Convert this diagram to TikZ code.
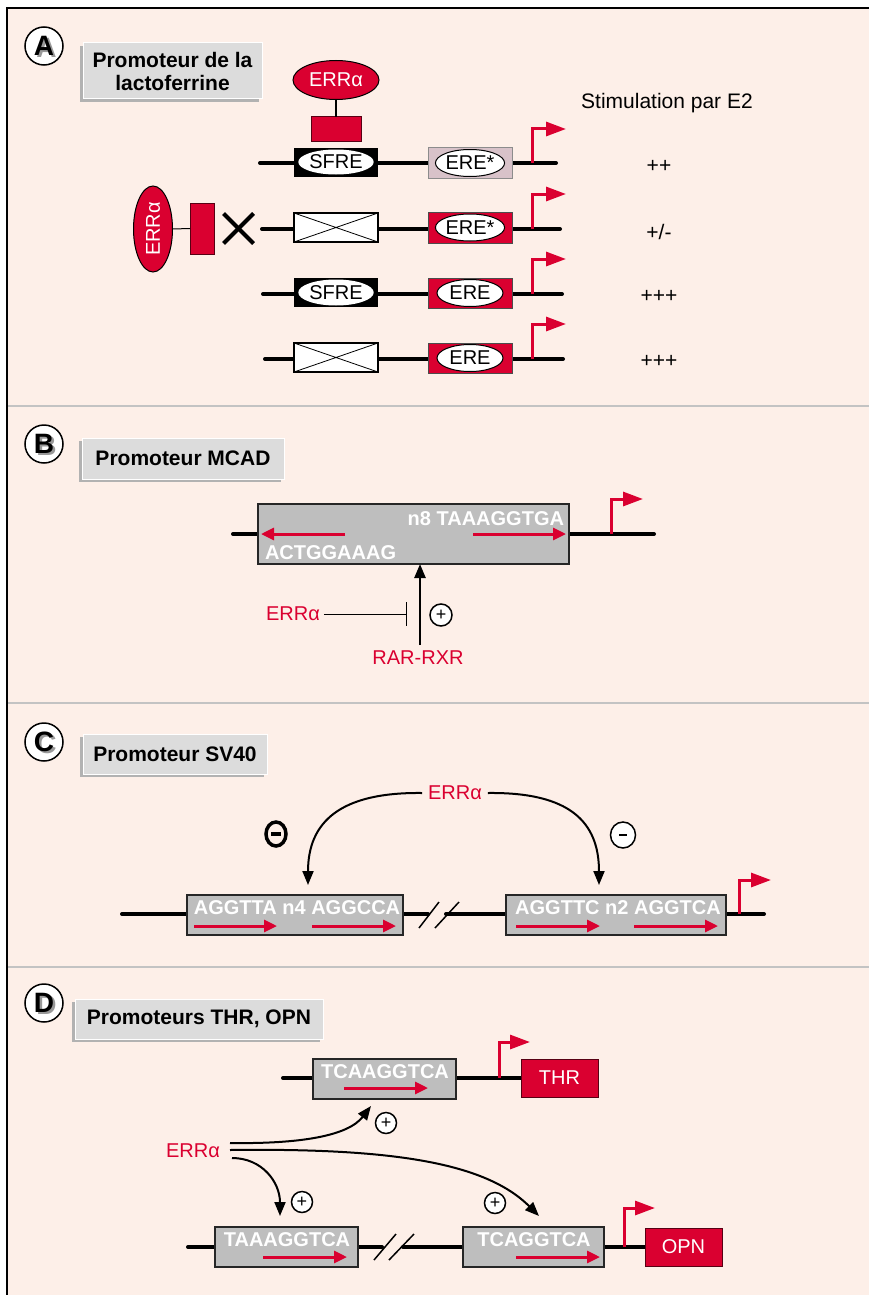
\documentclass[tikz,border=0pt]{standalone}
\usepackage{fontspec}
\setmainfont{Liberation Sans}
\usetikzlibrary{arrows.meta,shapes.geometric}
\definecolor{bg}{RGB}{253,239,232}
\definecolor{rd}{RGB}{218,0,48}
\definecolor{tbox}{RGB}{220,220,220}
\definecolor{tshadow}{RGB}{178,178,178}
\definecolor{gbox}{RGB}{190,190,190}
\definecolor{mauve}{RGB}{216,194,201}
\definecolor{sepc}{RGB}{195,195,195}
\begin{document}
\begin{tikzpicture}[x=1pt,y=-1pt,
 every node/.style={inner sep=0pt,outer sep=0pt},
 f20/.style={font=\fontsize{20}{22}\selectfont},
 f21/.style={font=\fontsize{21}{24}\selectfont},
 seqtxt/.style={font=\fontsize{20}{22}\selectfont\bfseries,text=white},
 titletxt/.style={font=\fontsize{21}{23}\selectfont\bfseries,fill=tbox,draw=white,line width=1pt,align=center},
 tshad/.style={fill=tshadow},
 letterc/.style={circle,draw,line width=1.5pt,fill=white,minimum size=38pt},
 lettert/.style={font=\fontsize{28}{28}\selectfont\bfseries},
 dna/.style={line width=4pt,line cap=round},
 prom/.style={draw=rd,line width=3pt,-{Triangle[length=20pt,width=14pt]}},
 redarr/.style={draw=rd,line width=3pt,-{Triangle[length=13pt,width=12pt]}},
 blkarr/.style={draw=black,line width=2.5pt,-{Triangle[length=14pt,width=11pt]}},
 sfrebox/.style={fill=black,minimum width=84pt,minimum height=29pt},
 erebox/.style={fill=rd,draw=black!70,line width=1pt,minimum width=84pt,minimum height=30pt},
 xbox/.style={fill=white,draw=black,line width=1.2pt,minimum width=84pt,minimum height=29pt},
 ovl/.style={ellipse,fill=white,minimum width=66pt,minimum height=27pt,f20},
 errell/.style={ellipse,fill=rd,draw=black,line width=1pt,text=white,f20},
 gseq/.style={fill=gbox,draw=black!85,line width=1.5pt},
 genebox/.style={fill=rd,draw=black!60!rd,line width=1pt,text=white,f20,minimum width=77pt,minimum height=38pt},
 pluscirc/.style={circle,draw,line width=1.5pt,fill=white,minimum size=22pt,font=\fontsize{18}{18}\selectfont},
 redtxt/.style={text=rd,f20},
 sepline/.style={draw=sepc,line width=2pt}
]
\useasboundingbox (0,0) rectangle (869,1295);
\fill[white] (0,0) rectangle (869,1295);
\fill[bg] (7,8) rectangle (869,1295);
\draw[line width=1.5pt] (7,1295) -- (7,8) -- (869,8);
\draw[sepline] (8,406) -- (869,406);
\draw[sepline] (8,703) -- (869,703);
\draw[sepline] (8,967) -- (869,967);

% ---------- Panel A ----------
\node[letterc] (cA) at (44,46) {};
\node[lettert,text=black!40] at ([shift={(2.5,1.5)}]cA.center) {A};
\node[lettert] (lA) at (cA.center) {A};
\node[tshad,minimum width=179pt,minimum height=56pt] at (169.5,74) {};
\node[titletxt,minimum width=179pt,minimum height=56pt] (tA) at (172.5,71) {Promoteur de la\\lactoferrine};

\node[errell,minimum width=86pt,minimum height=39pt] (errA1) at (336,80) {ERRα};
\node[fill=rd,draw=black!60!rd,line width=1pt,minimum width=50pt,minimum height=24pt] (rA1) at (336,129) {};
\draw[line width=1.5pt] (errA1.south) -- (rA1.north);

% row 1
\coordinate (r1l) at (260,163); \coordinate (r1r) at (556,163);
\draw[dna] (r1l) -- (r1r);
\node[sfrebox] (s1) at (336,162) {};
\node[ovl,minimum width=64pt,minimum height=25pt] (o1) at (s1.center) {SFRE};
\node[fill=mauve,draw=black!45,line width=1pt,minimum width=84pt,minimum height=31pt] (m1) at (470,163) {};
\node[ovl,draw=black,line width=1pt] (o1b) at (m1.center) {ERE*};
\coordinate (p1) at (532,163); \coordinate (t1) at (566,129);
\draw[prom] (p1) |- (t1);
\node[f21] (st) at (667,103) {Stimulation par E2};
\node[f21] (v1) at (659,166) {++};

% row 2
\node[errell,minimum width=39pt,minimum height=86pt] (errA2) at (153,229) {};
\node[rotate=90,text=white,f20] at (errA2.center) {ERRα};
\node[fill=rd,draw=black!60!rd,line width=1pt,minimum width=24pt,minimum height=51pt] (rA2) at (202,228.5) {};
\draw[line width=1pt] (errA2.east) -- (rA2.west);
\coordinate (xc) at (238.5,228.5);
\draw[line width=4pt] ([shift={(-15,-15)}]xc) -- ([shift={(15,15)}]xc);
\draw[line width=4pt] ([shift={(-15,15)}]xc) -- ([shift={(15,-15)}]xc);
\coordinate (r2l) at (262,229); \coordinate (r2r) at (560,229);
\draw[dna] (r2l) -- (r2r);
\node[xbox] (x2) at (336,227.5) {};
\draw[line width=0.8pt] (x2.north west) -- (x2.south east) (x2.south west) -- (x2.north east);
\node[erebox,minimum height=31pt] (e2) at (470,227.5) {};
\node[ovl,draw=black,line width=1pt] (o2) at (e2.center) {ERE*};
\coordinate (p2) at (532,229); \coordinate (t2) at (566,194);
\draw[prom] (p2) |- (t2);
\node[f21] (v2) at (659,232) {+/-};

% row 3
\coordinate (r3l) at (263,294); \coordinate (r3r) at (562,294);
\draw[dna] (r3l) -- (r3r);
\node[sfrebox] (s3) at (336,292.5) {};
\node[ovl,minimum width=64pt,minimum height=26pt] (o3) at (s3.center) {SFRE};
\node[erebox] (e3) at (470,293) {};
\node[ovl,draw=black,line width=1pt] (o3b) at (e3.center) {ERE};
\coordinate (p3) at (532,294); \coordinate (t3) at (566,259);
\draw[prom] (p3) |- (t3);
\node[f21] (v3) at (659,296) {+++};

% row 4
\coordinate (r4l) at (265,359); \coordinate (r4r) at (563,359);
\draw[dna] (r4l) -- (r4r);
\node[xbox] (x4) at (336,357.5) {};
\draw[line width=0.8pt] (x4.north west) -- (x4.south east) (x4.south west) -- (x4.north east);
\node[erebox] (e4) at (470,358) {};
\node[ovl,draw=black,line width=1pt] (o4) at (e4.center) {ERE};
\coordinate (p4) at (532,359); \coordinate (t4) at (566,324);
\draw[prom] (p4) |- (t4);
\node[f21] (v4) at (659,361) {+++};

% ---------- Panel B ----------
\node[letterc] (cB) at (44,444) {};
\node[lettert,text=black!40] at ([shift={(2.5,1.5)}]cB.center) {B};
\node[lettert] (lB) at (cB.center) {B};
\node[tshad,minimum width=202pt,minimum height=41pt] at (180,461.5) {};
\node[titletxt,minimum width=202pt,minimum height=41pt] (tB) at (183,458.5) {Promoteur MCAD};

\coordinate (bl) at (233,534); \coordinate (br) at (654,534);
\draw[dna] (bl) -- (br);
\node[gseq,minimum width=311pt,minimum height=60pt] (gB) at (413.5,534) {};
\node[seqtxt,anchor=east] (sB1) at (564,519) {n8 TAAAGGTGA};
\node[seqtxt,anchor=west] (sB2) at (265,553) {ACTGGAAAG};
\coordinate (bra1) at (473,534); \coordinate (bra2) at (566,534);
\draw[redarr] (bra1) -- (bra2);
\coordinate (bla1) at (345,534); \coordinate (bla2) at (261,534);
\draw[redarr] (bla1) -- (bla2);
\coordinate (pB) at (611,534); \coordinate (tB2) at (643,499);
\draw[prom] (pB) |- (tB2);
\node[redtxt] (rar) at (418,658) {RAR-RXR};
\draw[blkarr] (420,645) -- (gB.south -| 420,0);
\node[redtxt] (errB) at (293,614) {ERRα};
\draw[line width=1pt,-{Bar[width=24pt]}] ([xshift=4pt]errB.east) -- (407,614);
\node[pluscirc] (plB) at (441,615) {+};

% ---------- Panel C ----------
\node[letterc] (cC) at (44,742) {};
\node[lettert,text=black!40] at ([shift={(2.5,1.5)}]cC.center) {C};
\node[lettert] (lC) at (cC.center) {C};
\node[tshad,minimum width=184pt,minimum height=40pt] at (172,757) {};
\node[titletxt,minimum width=184pt,minimum height=40pt] (tC) at (175,754) {Promoteur SV40};

\draw[dna] (122,914) -- (428,914);
\draw[dna] (446,914) -- (764,914);
\draw[line width=1.5pt] (419,928) -- (439,902);
\draw[line width=1.5pt] (435,928) -- (459,902);
\node[gseq,minimum width=216pt,minimum height=40pt] (c1) at (295,915) {};
\node[gseq,minimum width=220pt,minimum height=40pt] (c2) at (616,915) {};
\node[seqtxt] (sC1) at (297,908) {AGGTTA n4 AGGCCA};
\node[seqtxt] (sC2) at (618,908) {AGGTTC n2 AGGTCA};
\draw[redarr] (194,926) -- (277,926);
\draw[redarr] (312,926) -- (396,926);
\draw[redarr] (516,926) -- (600,926);
\draw[redarr] (634,926) -- (718,926);
\coordinate (pC) at (739,914); \coordinate (tC2) at (771,880);
\draw[prom] (pC) |- (tC2);
\node[redtxt] (errC) at (455,793) {ERRα};
\draw[blkarr,line width=2pt] ([xshift=-6pt]errC.west) .. controls (340,792) and (308,822) .. (308,885);
\draw[blkarr,line width=2pt] ([xshift=6pt]errC.east) .. controls (570,792) and (599,822) .. (599,885);
\node[ellipse,draw,line width=3.5pt,minimum width=20pt,minimum height=24pt] (mC1) at (276,834) {};
\draw[line width=4pt] ([xshift=-5pt]mC1.center) -- ([xshift=5pt]mC1.center);
\node[ellipse,draw,line width=1.5pt,fill=white,minimum width=25pt,minimum height=26pt] (mC2) at (623,835) {};
\draw[line width=1.2pt] ([xshift=-4pt]mC2.center) -- ([xshift=4pt]mC2.center);

% ---------- Panel D ----------
\node[letterc] (cD) at (44,1003) {};
\node[lettert,text=black!40] at ([shift={(2.5,1.5)}]cD.center) {D};
\node[lettert] (lD) at (cD.center) {D};
\node[tshad,minimum width=248pt,minimum height=40pt] at (196,1022) {};
\node[titletxt,minimum width=248pt,minimum height=40pt] (tD) at (199,1019) {Promoteurs THR, OPN};

\draw[dna] (283,1078) -- (521,1078);
\node[gseq,minimum width=143pt,minimum height=40pt] (d1) at (384.5,1079) {};
\node[seqtxt] (sD1) at (385,1072) {TCAAGGTCA};
\draw[redarr] (344,1088) -- (428,1088);
\coordinate (pD1) at (499,1078); \coordinate (tD1) at (530,1042);
\draw[prom] (pD1) |- (tD1);
\node[genebox] (thr) at (559.5,1078) {THR};

\draw[dna] (188,1247) -- (382,1247);
\draw[dna] (403,1247) -- (646,1247);
\draw[line width=1.5pt] (374,1260) -- (396,1234);
\draw[line width=1.5pt] (389,1260) -- (414,1234);
\node[gseq,minimum width=143pt,minimum height=40pt] (d2) at (286.5,1247) {};
\node[gseq,minimum width=141pt,minimum height=40pt] (d3) at (533.5,1247) {};
\node[seqtxt] (sD2) at (287,1240) {TAAAGGTCA};
\node[seqtxt] (sD3) at (534,1240) {TCAGGTCA};
\draw[redarr] (263,1257) -- (347,1257);
\draw[redarr] (516,1257) -- (600,1257);
\coordinate (pD2) at (624,1247); \coordinate (tD2) at (655,1208);
\draw[prom] (pD2) |- (tD2);
\node[genebox] (opn) at (683.5,1247) {OPN};

\node[redtxt] (errD) at (193,1151) {ERRα};
\coordinate (a1) at (230,1143);
\coordinate (a2) at (230,1150);
\coordinate (a3) at (232,1158);
\draw[blkarr,line width=2pt] (a1) .. controls (300,1144) and (348,1136) .. (371,1106);
\draw[blkarr,line width=2pt] (a2) .. controls (390,1148) and (485,1162) .. (539,1216);
\draw[blkarr,line width=2pt] (a3) .. controls (262,1158) and (280,1182) .. (280,1216);
\node[pluscirc,minimum size=21pt] (plD1) at (386,1123) {+};
\node[pluscirc,minimum size=21pt] (plD2) at (302,1202) {+};
\node[pluscirc,minimum size=21pt] (plD3) at (495,1203) {+};
\end{tikzpicture}
\end{document}
